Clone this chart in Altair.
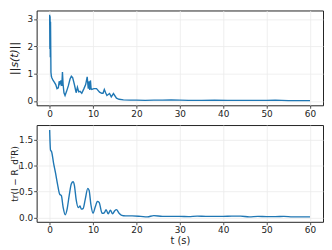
import altair as alt
import pandas as pd

# ||s(t)|| series
t_s = [0, 0.05, 0.1, 0.15, 0.2, 0.25, 0.3, 0.4, 0.5, 0.8,
       1.1, 1.4, 1.7, 2.0, 2.2, 2.4, 2.6, 2.8, 2.95, 3.1,
       3.3, 3.55, 3.9, 4.3, 4.7, 5.0, 5.3, 5.7, 6.1, 6.4,
       6.7, 7.0, 7.4, 7.9, 8.3, 8.65, 8.9, 9.1, 9.25, 9.4,
       9.55, 9.7, 10.2, 10.8, 11.5, 12.0, 12.3, 12.6, 12.9, 13.2,
       13.8, 14.2, 14.7, 15.4, 16.0, 17, 18.5, 20, 22, 24,
       26, 28, 30, 32, 35, 38, 41, 44, 47, 50,
       52, 53.5, 55, 57, 60]
s_norm = [3.15, 1.9, 3.1, 1.6, 2.9, 1.9, 1.05, 0.9, 0.85, 0.75,
          0.68, 0.6, 0.45, 0.48, 0.72, 0.62, 0.75, 0.55, 1.06, 0.6,
          0.3, 0.2, 0.35, 0.55, 0.8, 0.9, 0.85, 0.6, 0.3, 0.5,
          0.33, 0.35, 0.28, 0.45, 0.6, 0.88, 0.45, 0.72, 0.4, 0.75,
          0.45, 0.42, 0.45, 0.45, 0.32, 0.28, 0.28, 0.42, 0.3, 0.2,
          0.27, 0.15, 0.27, 0.1, 0.06, 0.04, 0.03, 0.03, 0.02, 0.03,
          0.03, 0.04, 0.03, 0.02, 0.02, 0.03, 0.02, 0.02, 0.02, 0.02,
          0.03, 0.02, 0.01, 0.01, 0.01]

# tr(I - Rd^T R) series
t_r = [0, 0.2, 0.45, 0.9, 1.35, 1.8, 2.3, 2.7, 3.1, 3.6,
       4.0, 4.5, 5.0, 5.4, 5.7, 6.1, 6.6, 7.0, 7.3, 7.7,
       8.2, 8.8, 9.1, 9.5, 10.0, 10.5, 11.0, 11.4, 12.1, 12.6,
       13.0, 13.5, 14.0, 14.5, 15.0, 15.4, 16.0, 16.6, 17.5, 19,
       21, 22.5, 24, 26, 28, 30, 32, 34, 36, 38,
       40, 42, 44, 46, 48, 50, 52, 54, 56, 58,
       60]
tr_err = [1.69, 1.30, 1.27, 1.05, 0.86, 0.65, 0.45, 0.42, 0.2, 0.05,
          0.15, 0.42, 0.65, 0.69, 0.62, 0.35, 0.19, 0.22, 0.16, 0.17,
          0.35, 0.56, 0.52, 0.25, 0.08, 0.2, 0.31, 0.29, 0.08, 0.09,
          0.15, 0.07, 0.14, 0.07, 0.13, 0.15, 0.08, 0.04, 0.03, 0.03,
          0.02, 0.01, 0.035, 0.02, 0.02, 0.02, 0.015, 0.025, 0.02, 0.02,
          0.02, 0.025, 0.025, 0.01, 0.02, 0.015, 0.015, 0.02, 0.01, 0.01,
          0.01]

x_ticks = [0, 10, 20, 30, 40, 50, 60]
y_ticks_top = [0, 1, 2, 3]
y_ticks_bottom = [0.0, 0.5, 1.0, 1.5]

df_s = pd.DataFrame({"t": t_s, "v": s_norm})
df_r = pd.DataFrame({"t": t_r, "v": tr_err})

LINE = "#1f77b4"
x_scale = alt.Scale(domain=[-3, 63], nice=False, zero=False)

top = alt.Chart(df_s).mark_line(color=LINE, strokeWidth=1.4, clip=True).encode(
    x=alt.X("t:Q", scale=x_scale, axis=alt.Axis(values=x_ticks, title=None)),
    y=alt.Y("v:Q", scale=alt.Scale(domain=[-0.16, 3.31], nice=False, zero=False),
            axis=alt.Axis(values=y_ticks_top, title="||s(t)||", titleX=-17,
                          titleFontSize=11, titleFontStyle="italic")),
).properties(width=290, height=96)

bottom = alt.Chart(df_r).mark_line(color=LINE, strokeWidth=1.4, clip=True,
                                   interpolate="monotone").encode(
    x=alt.X("t:Q", scale=x_scale, axis=alt.Axis(values=x_ticks, title="t (s)",
                                                titlePadding=1, titleFontSize=10)),
    y=alt.Y("v:Q", scale=alt.Scale(domain=[-0.085, 1.785], nice=False, zero=False),
            axis=alt.Axis(values=y_ticks_bottom, format=".1f", title="tr(I − R_dᵀR)",
                          titleX=-17, titleFontSize=9)),
).properties(width=290, height=98)

chart = alt.vconcat(top, bottom, spacing=5).properties(
    padding={"left": 0, "top": 0, "right": 0, "bottom": 0}
).configure_axis(
    labelFont="DejaVu Sans", labelFontSize=9, labelColor="#222",
    titleFont="DejaVu Sans", titleColor="#222", titleFontWeight="normal",
    tickColor="#222", tickSize=3, tickWidth=0.8, labelPadding=1,
    grid=True, gridColor="#ebebeb", gridWidth=0.8, domain=False,
).configure_view(stroke="#222", strokeWidth=1)

chart.save("out.html", embed_options={"renderer": "svg", "actions": False})
